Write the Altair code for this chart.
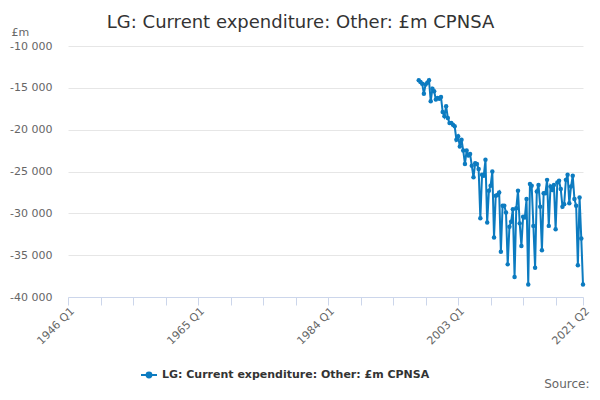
import altair as alt
import pandas as pd

# quarterly series, first observation 1997 Q2 (axis index 0 = 1946 Q1)
first_year = 1997
first_quarter = 2

values_early = [
    -14100, -14300, -14500, -15700, -14600, -14400, -14100, -16600, -15100, -15400,
    -16400, -16200, -16300, -16100, -17900, -18400, -17200, -18600, -19200, -19200,
    -19400, -19600, -21200, -20800, -22000, -21200, -22500, -24100, -22500, -23100,
    -22900, -24300, -25700, -24000, -24100, -24700, -30600, -25400, -25500, -23600,
    -31100, -27300, -26700, -25000, -32900, -27900, -27800, -27500, -34600,
]
values_late = [
    -29100, -29100, -29900, -36100, -31600, -31000, -29500, -37600, -29400, -27300,
    -31200, -33900, -30400, -30500, -28300, -38500, -26500, -26700, -31500, -36500,
    -27400, -26600, -29200, -34400, -27600, -27600, -26000, -31500, -26800, -27200,
    -26600, -31900, -26300, -26100, -27100, -29200, -28900, -26000, -25400, -28800,
    -26800, -25500, -28300, -29100, -36200, -28100, -33000, -38500,
]

series_name = "LG: Current expenditure: Other: £m CPNSA"
x_ticks = [0, 19, 38, 57, 76, 95, 114, 133, 152, 171, 190, 209, 228, 247, 266, 285, 301]
y_ticks = [-40000, -35000, -30000, -25000, -20000, -15000, -10000]

values = values_early + values_late
start = (first_year - 1946) * 4 + (first_quarter - 1)
df = pd.DataFrame({
    "q": list(range(start, start + len(values))),
    "value": values,
    "series": series_name,
})

BLUE = "#0c7bc0"
FONT = "DejaVu Sans"

x_label = (
    "(datum.value % 76 == 0 || datum.value == 301) ? "
    "(floor(datum.value / 4) + 1946) + ' Q' + (datum.value % 4 + 1) : ''"
)
y_label = "(datum.value < 0 ? '-' : '') + replace(format(abs(datum.value), ','), ',', ' ')"

legend_symbol = "M-1,0L1,0M-0.3,0A0.3,0.3,0,1,0,0.3,0A0.3,0.3,0,1,0,-0.3,0Z"

chart = (
    alt.Chart(df)
    .mark_line(strokeWidth=2, point=alt.OverlayMarkDef(size=20, filled=True, color=BLUE))
    .encode(
        x=alt.X(
            "q:Q",
            scale=alt.Scale(domain=[0, 301], nice=False, zero=False),
            axis=alt.Axis(
                values=x_ticks,
                labelExpr=x_label,
                labelAngle=-45,
                labelAlign="right",
                labelBaseline="top",
                labelPadding=0,
                labelFont=FONT,
                labelFontSize=11,
                labelColor="#666666",
                labelOverlap=False,
                tickSize=8,
                tickColor="#ccd6eb",
                domainColor="#ccd6eb",
                grid=False,
                title="Source:",
                titleFont=FONT,
                titleFontSize=12,
                titleFontWeight="normal",
                titleColor="#666666",
                titleAlign="right",
                titleAnchor="end",
                titleBaseline="alphabetic",
                titleX=521,
                titleY=90,
            ),
        ),
        y=alt.Y(
            "value:Q",
            scale=alt.Scale(domain=[-40000, -10000], nice=False, zero=False),
            axis=alt.Axis(
                values=y_ticks,
                labelExpr=y_label,
                labelFont=FONT,
                labelFontSize=11,
                labelColor="#666666",
                labelPadding=16,
                ticks=False,
                tickSize=0,
                domain=False,
                gridColor="#e6e6e6",
                title="£m",
                titleAngle=0,
                titleFont=FONT,
                titleFontSize=11,
                titleFontWeight="normal",
                titleColor="#666666",
                titleAlign="left",
                titleBaseline="middle",
                titleX=-57,
                titleY=-14,
            ),
        ),
        color=alt.Color(
            "series:N",
            scale=alt.Scale(range=[BLUE]),
            legend=alt.Legend(
                title=None,
                orient="none",
                legendX=72,
                legendY=320,
                symbolType=legend_symbol,
                symbolSize=256,
                symbolStrokeWidth=2,
                symbolFillColor=BLUE,
                symbolStrokeColor=BLUE,
                labelFont=FONT,
                labelFontSize=11,
                labelFontWeight="bold",
                labelColor="#333333",
                labelLimit=400,
            ),
        ),
    )
    .properties(
        width=515,
        height=251,
        autosize=alt.AutoSizeParams(type="none"),
        padding={"left": 60, "top": 38, "right": 9, "bottom": 95},
        title=alt.Title(
            series_name,
            font=FONT,
            fontSize=18,
            fontWeight="normal",
            color="#333333",
            anchor="middle",
            frame="group",
            dx=-25,
            offset=-6,
        ),
    )
    .configure_view(strokeWidth=0)
)

chart.save("out.html", embed_options={"renderer": "svg", "actions": False})
